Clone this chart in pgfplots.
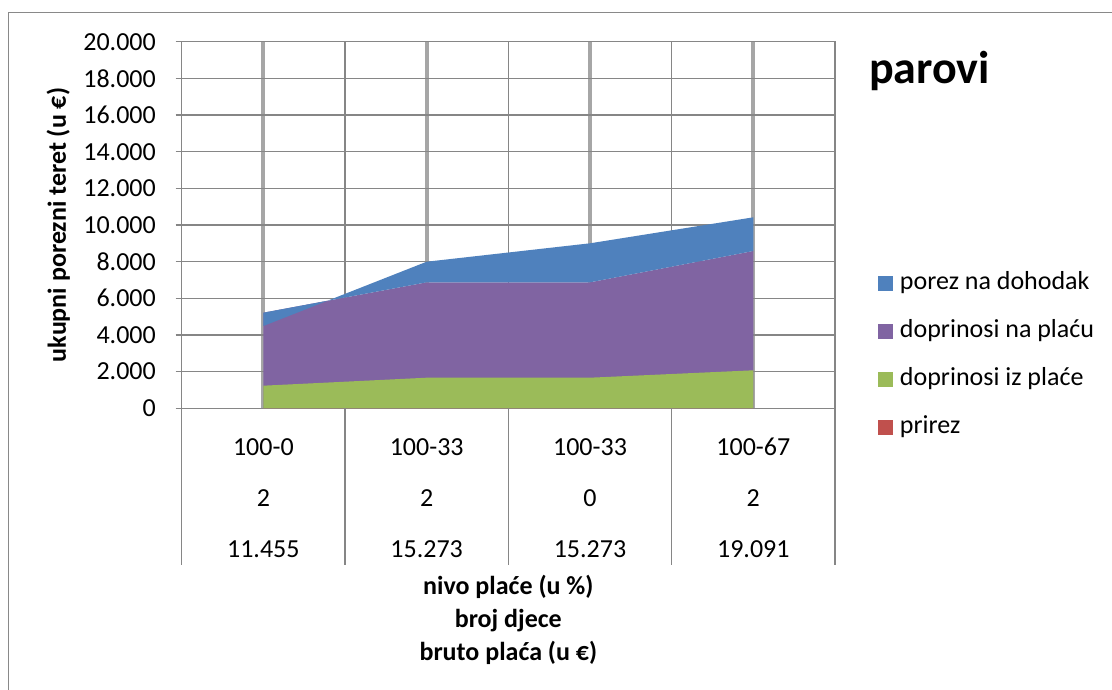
\documentclass[border=0pt]{standalone}
\usepackage{pgfplots}
\pgfplotsset{compat=1.18}
\usepackage{fontspec}
\setmainfont{Carlito}
\definecolor{cBlue}{HTML}{4F81BD}
\definecolor{cPurple}{HTML}{8064A2}
\definecolor{cGreen}{HTML}{9BBB59}
\definecolor{cRed}{HTML}{C0504D}
\definecolor{cGrid}{HTML}{868686}
\definecolor{cGridL}{HTML}{A6A6A6}
\definecolor{cBorder}{HTML}{898989}
\begin{document}
\begin{tikzpicture}[x=1pt,y=1pt]
\useasboundingbox (0,0) rectangle (1112,690);
\fill[white] (0,0) rectangle (1112,690);
\draw[cBorder, line width=1.5pt] (8.5,0) -- (8.5,677.5) -- (1112,677.5);
\begin{axis}[
  at={(181.7pt,281.7pt)}, anchor=south west,
  scale only axis, width=653.3pt, height=366.6pt,
  xmin=0.5, xmax=4.5, ymin=0, ymax=20000,
  scaled y ticks=false,
  axis line style={cGrid, line width=1.5pt},
  xtick={1,2,3,4},
  xticklabels={{100-0\\2\\11.455},{100-33\\2\\15.273},{100-33\\0\\15.273},{100-67\\2\\19.091}},
  minor xtick={0.5,1.5,2.5,3.5,4.5},
  ytick={0,2000,4000,6000,8000,10000,12000,14000,16000,18000,20000},
  yticklabels={0,2.000,4.000,6.000,8.000,10.000,12.000,14.000,16.000,18.000,20.000},
  xmajorgrids, xminorgrids, ymajorgrids,
  major x grid style={cGridL, line width=4pt},
  minor x grid style={cGrid, line width=1.5pt},
  major y grid style={cGrid, line width=1.5pt},
  xtick style={draw=none},
  minor tick length=0pt,
  ytick style={cGrid, line width=1.5pt},
  ytick pos=left,
  tick align=outside,
  major tick length=6pt,
  yticklabel style={anchor=east, inner sep=0pt, xshift=-19.7pt, font=\fontsize{26}{31}\selectfont},
  xticklabel style={align=center, anchor=north, inner sep=0pt, yshift=-23.8pt, font=\fontsize{26}{51}\selectfont},
  ylabel={ukupni porezni teret (u €)},
  ylabel style={at={(axis description cs:-0.189,0.5)}, anchor=center, inner sep=0pt, font=\bfseries\fontsize{26}{31}\selectfont},
  xlabel={nivo plaće (u \%)\\broj djece\\bruto plaća (u €)},
  xlabel style={at={(axis description cs:0.5,-0.576)}, anchor=center, align=center, inner sep=0pt, font=\bfseries\fontsize{26}{33}\selectfont},
  title={parovi},
  title style={at={(axis description cs:1.052,0.8704)}, anchor=base west, inner sep=0pt, font=\bfseries\fontsize{46}{55}\selectfont},
  legend image code/.code={\fill[#1] (0pt,-7.5pt) rectangle (15pt,7.5pt);},
  legend cell align=left,
  legend style={at={(axis description cs:1.0658,0.3745)}, anchor=north west, draw=none, fill=none, inner sep=0pt, outer sep=0pt, row sep=24pt, column sep=7pt, font=\fontsize{26}{31}\selectfont, nodes={inner sep=0pt, text height=18pt, text depth=6pt, anchor=west}},
]
% cumulative top of doprinosi na placu
\addplot[fill=cPurple, draw=none, forget plot] coordinates {(1,5215) (2,6873) (3,6873) (4,8581)} \closedcycle;
% cumulative top of doprinosi iz place
\addplot[fill=cGreen, draw=none, forget plot] coordinates {(1,1233) (2,1669) (3,1669) (4,2073)} \closedcycle;
% prirez (zero)
\addplot[fill=cRed, draw=none, forget plot] coordinates {(1,0) (2,0) (3,0) (4,0)} \closedcycle;
% porez na dohodak: band between its cumulative top and the top of doprinosi na placu
\addplot[fill=cBlue, draw=none, forget plot] coordinates {(1,4489) (2,7997) (3,9001) (4,10419) (4,8581) (3,6873) (2,6873) (1,5215)} -- cycle;
\addlegendimage{fill=cBlue, draw=none}
\addlegendentry{porez na dohodak}
\addlegendimage{fill=cPurple, draw=none}
\addlegendentry{doprinosi na plaću}
\addlegendimage{fill=cGreen, draw=none}
\addlegendentry{doprinosi iz plaće}
\addlegendimage{fill=cRed, draw=none}
\addlegendentry{prirez}
\end{axis}
\foreach \xx in {181.7,345.0,508.35,671.7,835.0} {
  \draw[cGrid, line width=1.5pt] (\xx,281.7) -- (\xx,125);
}
\end{tikzpicture}
\end{document}
